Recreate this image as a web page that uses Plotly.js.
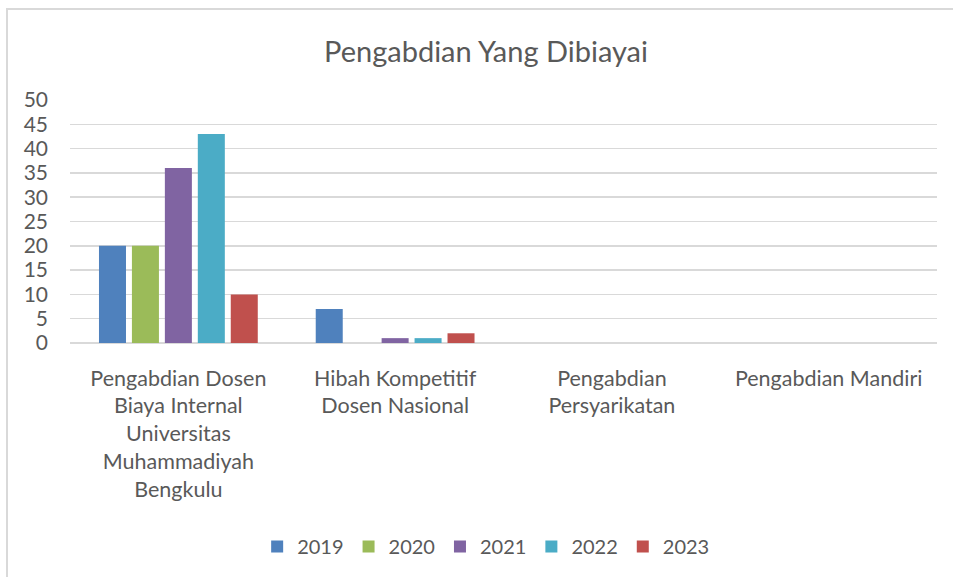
<!DOCTYPE html>
<html>
<head>
<meta charset="utf-8">
<script src="https://cdn.plot.ly/plotly-3.0.1.min.js"></script>
<style>
  html, body { margin: 0; padding: 0; background: #fff; overflow: hidden; }
  #frame { position: absolute; left: 6px; top: 8px; width: 1000px; height: 600px; border: 2px solid #d9d9d9; box-sizing: border-box; }
  #chart { position: absolute; left: 0; top: 0; width: 953px; height: 577px; }
</style>
</head>
<body>
<div id="frame"></div>
<div id="chart"></div>
<script>
const categories = [
  "Pengabdian Dosen<br>Biaya Internal<br>Universitas<br>Muhammadiyah<br>Bengkulu",
  "Hibah Kompetitif<br>Dosen Nasional",
  "Pengabdian<br>Persyarikatan",
  "Pengabdian Mandiri"
];
const years = ["2019", "2020", "2021", "2022", "2023"];
const v2019 = [20, 7, 0, 0];
const v2020 = [20, 0, 0, 0];
const v2021 = [36, 1, 0, 0];
const v2022 = [43, 1, 0, 0];
const v2023 = [10, 2, 0, 0];
const colors = ["#4F81BD", "#9BBB59", "#8064A2", "#4BACC6", "#C0504D"];
const series = [v2019, v2020, v2021, v2022, v2023];

const font = "Lato, Carlito, Calibri, 'Open Sans', sans-serif";
const traces = series.map((vals, i) => ({
  type: "bar",
  name: years[i],
  x: categories,
  y: vals,
  marker: { color: colors[i] },
  hoverinfo: "x+y+name"
}));

const layout = {
  width: 953, height: 577,
  paper_bgcolor: "rgba(0,0,0,0)",
  plot_bgcolor: "rgba(0,0,0,0)",
  margin: { l: 70, r: 16, t: 100, b: 233 },
  title: { text: "Pengabdian Yang Dibiayai", font: { family: font, size: 29, color: "#595959" }, x: 0.51, xanchor: "center", y: 0.91, yanchor: "middle" },
  font: { family: font, size: 21, color: "#595959" },
  barmode: "group",
  bargap: 0.24,
  bargroupgap: 0.18,
  xaxis: {
    showgrid: false, zeroline: false, showline: false, ticks: "",
    tickfont: { family: font, size: 21.5, color: "#595959" },
    ticklabelstandoff: 20
  },
  yaxis: {
    range: [0, 50], dtick: 5, tick0: 0,
    showgrid: true, gridcolor: "#d9d9d9", gridwidth: 1.5,
    zeroline: true, zerolinecolor: "#d9d9d9", zerolinewidth: 1.5,
    showline: false, ticks: "",
    tickfont: { family: font, size: 21, color: "#595959" },
    ticklabelstandoff: 21,
    fixedrange: true
  },
  legend: {
    orientation: "h", x: 0.48, xanchor: "center", y: -0.83, yanchor: "middle",
    font: { family: font, size: 20, color: "#595959" },
    itemwidth: 30, tracegroupgap: 0
  },
  showlegend: true
};

Plotly.newPlot("chart", traces, layout, { displayModeBar: false, staticPlot: true });
</script>
</body>
</html>
